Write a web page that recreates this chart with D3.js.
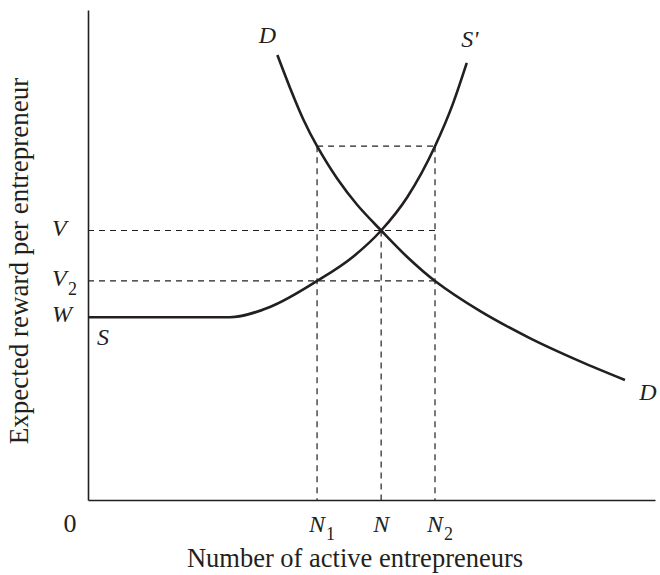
<!DOCTYPE html>
<html>
<head>
<meta charset="utf-8">
<script src="https://cdn.jsdelivr.net/npm/d3@7"></script>
<style>
  html, body { margin: 0; padding: 0; background: #fff; }
  svg { display: block; }
  text { font-family: "Liberation Serif", "DejaVu Serif", serif; fill: #231f20; }
</style>
</head>
<body>
<svg id="chart" width="660" height="575"></svg>
<script>
// ---- data (arbitrary units: x = number of entrepreneurs, y = expected reward) ----
const demandX = [33.4, 35.6, 38.0, 40.4, 44.0, 47.5, 51.7, 56.3, 61.2, 69.1, 78.0, 86.8, 94.7];
const demandY = [90.8, 84.2, 77.6, 72.2, 65.5, 60.2, 55.0, 49.6, 44.7, 38.6, 33.0, 28.3, 24.5];
const supplyX = [0, 25.0, 32.1, 40.4, 46.7, 51.7, 56.3, 61.2, 64.4, 66.8];
const supplyY = [37.3, 37.3, 39.4, 44.7, 49.6, 55.0, 61.8, 72.2, 81.0, 89.2];
const xMarks = [["N", "1", 40.4], ["N", "", 51.7], ["N", "2", 61.2]];
const yMarks = [["V", "", 55.0], ["V", "2", 44.7], ["W", "", 37.3]];
const highReward = 72.2;
const xTitle = "Number of active entrepreneurs";
const yTitle = "Expected reward per entrepreneur";

const svg = d3.select("#chart");
const x = d3.scaleLinear().domain([0, 100]).range([88, 655]);
const y = d3.scaleLinear().domain([0, 100]).range([500, 10]);
const ink = "#231f20";

// axes (lines only)
const gx = svg.append("g").attr("transform", `translate(0,${y(0)})`)
  .call(d3.axisBottom(x).tickValues([]).tickSizeOuter(0));
const gy = svg.append("g").attr("transform", `translate(${x(0)},0)`)
  .call(d3.axisLeft(y).tickValues([]).tickSizeOuter(0));
[gx, gy].forEach(g => g.select(".domain").attr("stroke", ink).attr("stroke-width", 1.6));

// dashed guide lines
const [n1, n0, n2] = xMarks.map(d => d[2]);
const [vV, v2, vW] = yMarks.map(d => d[2]);
const guides = [
  [0, vV, n2, vV],
  [0, v2, n2, v2],
  [n1, highReward, n2, highReward],
  [n1, highReward, n1, 0],
  [n0, vV, n0, 0],
  [n2, highReward, n2, 0]
];
svg.append("g").selectAll("line").data(guides).join("line")
  .attr("x1", d => x(d[0])).attr("y1", d => y(d[1]))
  .attr("x2", d => x(d[2])).attr("y2", d => y(d[3]))
  .attr("stroke", "#222").attr("stroke-width", 1.2)
  .attr("stroke-dasharray", "6,5");

// curves
const demand = demandX.map((v, i) => [v, demandY[i]]);
const supply = supplyX.map((v, i) => [v, supplyY[i]]);
const lineD = d3.line().x(d => x(d[0])).y(d => y(d[1])).curve(d3.curveCatmullRom.alpha(0.5));
const lineS = d3.line().x(d => x(d[0])).y(d => y(d[1])).curve(d3.curveMonotoneX);
[[demand, lineD], [supply, lineS]].forEach(([pts, ln]) => {
  svg.append("path").attr("d", ln(pts))
    .attr("fill", "none").attr("stroke", ink).attr("stroke-width", 2.6)
    .attr("stroke-linecap", "butt");
});

// curve labels
const it = (tx, ty, s) => svg.append("text").attr("x", tx).attr("y", ty)
  .attr("font-style", "italic").attr("font-size", 24).text(s);
it(x(demandX[0]) - 10, y(demandY[0]) - 12, "D").attr("text-anchor", "middle");
it(x(supplyX[supplyX.length - 1]) + 3, y(supplyY[supplyY.length - 1]) - 16, "S'").attr("text-anchor", "middle");
it(x(demandX[demandX.length - 1]) + 23, y(demandY[demandY.length - 1]) + 20, "D").attr("text-anchor", "middle");
it(x(0) + 9, y(vW) + 28, "S");

// y marks
yMarks.forEach(([m, sub, v]) => {
  it(52, y(v) + 5, m);
  if (sub) svg.append("text").attr("x", 68).attr("y", y(v) + 14)
    .attr("font-size", 18).text(sub);
});

// x marks
xMarks.forEach(([m, sub, v]) => {
  it(x(v), 532, m).attr("text-anchor", "middle");
  if (sub) svg.append("text").attr("x", x(v) + 9).attr("y", 540)
    .attr("font-size", 18).text(sub);
});

// origin
svg.append("text").attr("x", 70).attr("y", 532).attr("text-anchor", "middle")
  .attr("font-size", 26).text("0");

// titles
svg.append("text").attr("x", 355).attr("y", 567).attr("text-anchor", "middle")
  .attr("font-size", 26.5).text(xTitle);
svg.append("text").attr("transform", "translate(28,261) rotate(-90)")
  .attr("text-anchor", "middle").attr("font-size", 27).text(yTitle);
</script>
</body>
</html>
